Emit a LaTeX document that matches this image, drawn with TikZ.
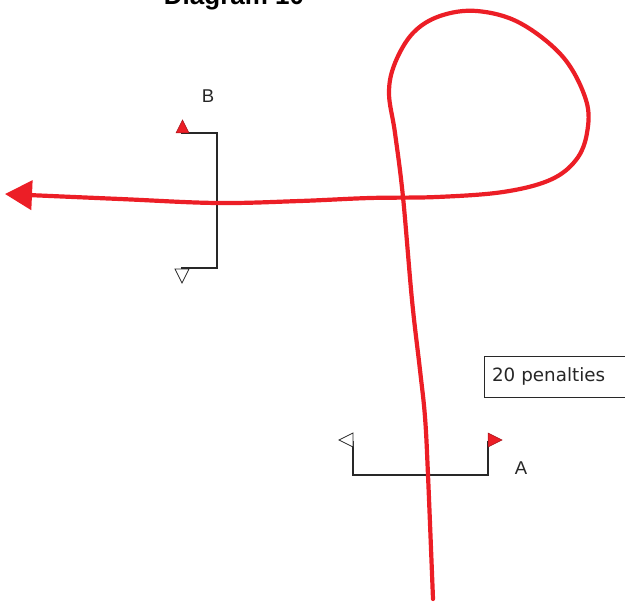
\documentclass[tikz,border=0pt]{standalone}
\usepackage{fontspec}
\setmainfont{Liberation Sans}
\newfontfamily\verd{DejaVu Sans}
\usetikzlibrary{arrows.meta}
\definecolor{routered}{RGB}{236,30,38}
\definecolor{lineblk}{RGB}{40,40,40}
\tikzset{
  route/.style={draw=routered, line width=4.2pt, line cap=round, line join=round,
    -{Triangle[length=27pt,width=29pt]}},
  bracketline/.style={draw=lineblk, line width=1.2pt},
  redflag/.style={fill=routered, draw=routered!70!black, line width=0.5pt},
  whiteflag/.style={fill=white, draw=lineblk, line width=0.8pt},
  lbl/.style={inner sep=0pt, font=\fontsize{18.5}{20}\selectfont, text=black!85},
  penbox/.style={draw=lineblk, line width=1pt, text width=126pt, align=left, minimum height=41pt,
    inner xsep=8pt, inner ysep=0pt,
    font=\verd\fontsize{18.3}{20}\selectfont, text=black!85},
}
\begin{document}
\begin{tikzpicture}[x=1pt,y=-1pt]
\useasboundingbox (0,0) rectangle (625,602);
% title
\node[anchor=base, inner sep=0pt, font=\bfseries\fontsize{26}{30}\selectfont] (title) at (234,5) {Diagram 10};
% gate B
\coordinate (b1) at (181,133);
\coordinate (b2) at (217,133);
\coordinate (b3) at (217,268);
\coordinate (b4) at (181,268);
\draw[bracketline] (b1) -- (b2) -- (b3) -- (b4);
\draw[redflag] (176,133) -- (189,133) -- (182.5,120) -- cycle;
\draw[whiteflag] (175,269) -- (189,269) -- (182,283) -- cycle;
\node[lbl] (B) at (208,96) {B};
% gate A
\coordinate (a1) at (353,441);
\coordinate (a2) at (353,475);
\coordinate (a3) at (488,475);
\coordinate (a4) at (488,441);
\draw[bracketline] (a1) -- (a2) -- (a3) -- (a4);
\draw[whiteflag] (353,433) -- (353,447) -- (339,440) -- cycle;
\draw[redflag] (488,433) -- (488,447) -- (502,440) -- cycle;
\node[lbl] (A) at (521,468) {A};
% penalties box
\node[penbox, anchor=west] (pen) at (483.5,376.5) {20 penalties};
% route
\draw[route] plot[smooth, tension=0.6] coordinates {
 (433,599) (428,475) (425,417) (420,370) (412,300) (403,197) (395,133) (389,93)
 (395,63) (413,33) (440,16) (477,11) (520,23) (563,57) (586,100) (587,133)
 (576,160) (550,180) (503,192) (437,197) (370,198) (300,201) (217,203) (120,199) (5,194)};
\end{tikzpicture}
\end{document}
